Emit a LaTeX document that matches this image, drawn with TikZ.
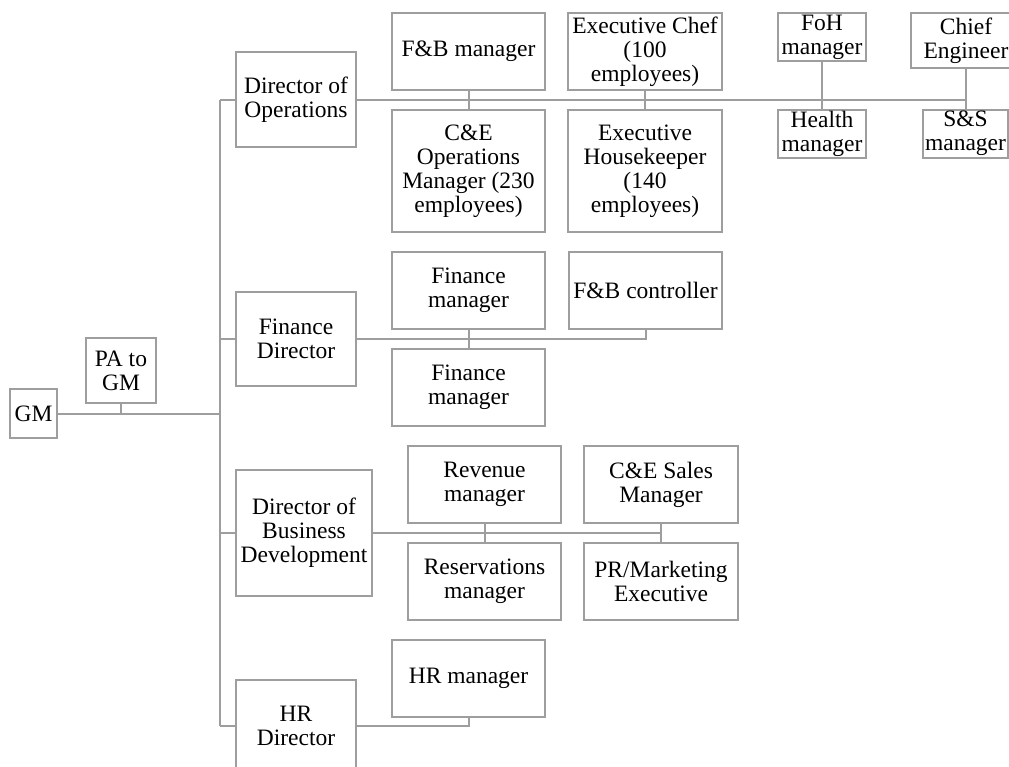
\documentclass[tikz,border=0pt]{standalone}
\usepackage{fontspec}
\setmainfont{Liberation Serif}
\definecolor{lg}{RGB}{158,158,158}
\tikzset{
  org/.style={draw=lg, line width=2pt, fill=white, inner sep=0pt, align=center,
    font=\fontsize{23.5}{24}\selectfont},
  bx/.style 2 args={org, minimum width=#1, minimum height=#2},
  link/.style={draw=lg, line width=2pt},
}
\begin{document}
\begin{tikzpicture}[x=1pt,y=-1pt]
\useasboundingbox (0,0) rectangle (1009,766);
% nodes
\node[bx={47}{49}] (gm) at (33.5,413.5) {GM};
\node[bx={70}{65}] (pa) at (121,370.5) {PA to\\GM};
\node[bx={120}{95}] (do) at (296,99.5) {Director of\\Operations};
\node[bx={153}{77}] (fbm) at (468.5,51.5) {F\&B manager};
\node[bx={153}{122}] (ceo) at (468.5,171) {C\&E\\Operations\\Manager (230\\employees)};
\node[bx={154}{77}] (ec) at (645,51.5) {Executive Chef\\(100\\employees)};
\node[bx={154}{122}] (eh) at (645,171) {Executive\\Housekeeper\\(140\\employees)};
\node[bx={88}{48}] (foh) at (822,37) {FoH\\manager};
\node[bx={88}{48}] (hm) at (822,134) {Health\\manager};
\node[bx={110}{55}] (ce) at (966,40.5) {Chief\\Engineer};
\node[bx={85}{48}] (ss) at (965.5,133.5) {S\&S\\manager};
\node[bx={120}{94}] (fd) at (296,339) {Finance\\Director};
\node[bx={153}{77}] (fm1) at (468.5,290.5) {Finance\\manager};
\node[bx={153}{77}] (fm2) at (468.5,387.5) {Finance\\manager};
\node[bx={153}{77}] (fbc) at (645.5,290.5) {F\&B controller};
\node[bx={136}{126}] (dbd) at (304,533) {Director of\\Business\\Development};
\node[bx={153}{77}] (rev) at (484.5,484.5) {Revenue\\manager};
\node[bx={153}{77}] (res) at (484.5,581.5) {Reservations\\manager};
\node[bx={154}{77}] (ces) at (661,484.5) {C\&E Sales\\Manager};
\node[bx={154}{77}] (pr) at (661,581.5) {PR/Marketing\\Executive};
\node[bx={153}{77}] (hrm) at (468.5,678.5) {HR manager};
\node[bx={120}{92}] (hrd) at (296,726) {HR\\Director};
% junctions
\coordinate (jt) at (220,99.5);
\coordinate (jb) at (220,726);
\coordinate (jg) at (220,413.5);
% connectors
\draw[link] (jt) -- (jb);
\draw[link] (gm.east) -- (jg);
\draw[link] (pa.south) -- (pa.south |- jg);
\draw[link] (jt) -- (do.west);
\draw[link] (do.east) -- (ce.south |- do.east);
\draw[link] (fbm.south) -- (ceo.north);
\draw[link] (ec.south) -- (eh.north);
\draw[link] (foh.south) -- (hm.north);
\draw[link] (ce.south) -- (ce.south |- ss.north);
\draw[link] (fd.west -| jt) -- (fd.west);
\draw[link] (fd.east) -- (fbc.south |- fd.east) -- (fbc.south);
\draw[link] (fm1.south) -- (fm2.north);
\draw[link] (dbd.west -| jt) -- (dbd.west);
\draw[link] (dbd.east) -- (ces.south |- dbd.east);
\draw[link] (rev.south) -- (res.north);
\draw[link] (ces.south) -- (pr.north);
\draw[link] (hrd.west -| jt) -- (hrd.west);
\draw[link] (hrd.east) -- (hrm.south |- hrd.east) -- (hrm.south);
\end{tikzpicture}
\end{document}
